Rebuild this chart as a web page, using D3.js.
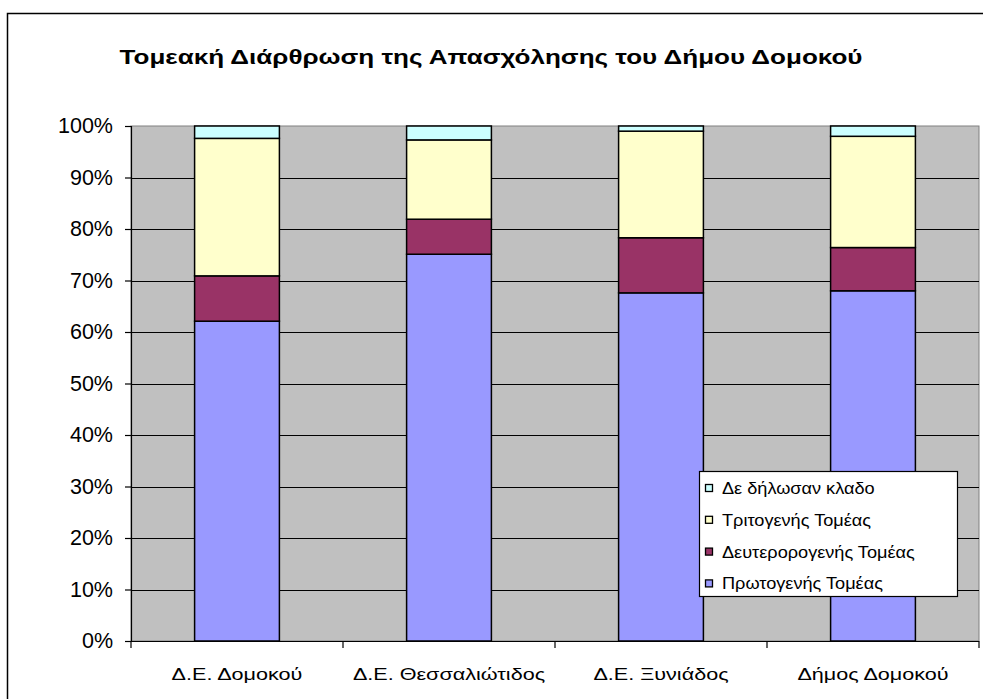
<!DOCTYPE html>
<html><head><meta charset="utf-8">
<script src="https://cdn.jsdelivr.net/npm/d3@7"></script>
<style>body{margin:0;background:#fff}svg{display:block}text{font-family:"Liberation Sans",Arial,sans-serif}</style>
</head><body>
<svg id="c" width="983" height="699"></svg>
<script>
const categories = ["Δ.Ε. Δομοκού","Δ.Ε. Θεσσαλιώτιδος","Δ.Ε. Ξυνιάδος","Δήμος Δομοκού"];
const seriesNames = ["Πρωτογενής Τομέας","Δευτερορογενής Τομέας","Τριτογενής Τομέας","Δε δήλωσαν κλαδο"];
const primary   = [62.1, 75.1, 67.6, 68.0];
const secondary = [8.8, 6.8, 10.7, 8.4];
const tertiary  = [26.7, 15.4, 20.7, 21.6];
const undeclared= [2.4, 2.7, 1.0, 2.0];
const yTicks = [0,10,20,30,40,50,60,70,80,90,100];
const colors = ["#9999FF","#993366","#FFFFCC","#CCFFFF"];
const title = "Τομεακή Διάρθρωση της Απασχόλησης του Δήμου Δομοκού";

const svg = d3.select("#c");
svg.append("rect").attr("x",7.5).attr("y",13.5).attr("width",1000).attr("height",720)
  .attr("fill","#fff").attr("stroke","#000").attr("stroke-width",1.5);

const L=131, R=979, T=126, B=641;
const x = d3.scaleBand().domain(categories).range([L,R]).paddingInner(0.6).paddingOuter(0.3);
const xb = d3.scaleBand().domain(categories).range([L,R]);
const y = d3.scaleLinear().domain([0,100]).range([B,T]);

svg.append("rect").attr("x",L).attr("y",T).attr("width",R-L).attr("height",B-T)
  .attr("fill","#C0C0C0").attr("stroke","#808080").attr("stroke-width",1);

svg.append("g").selectAll("line").data(yTicks.filter(d=>d>0&&d<100)).join("line")
  .attr("x1",L).attr("x2",R).attr("y1",d=>Math.round(y(d))+0.5).attr("y2",d=>Math.round(y(d))+0.5)
  .attr("stroke","#000").attr("stroke-width",1.2);

const data = categories.map((c,i)=>({cat:c, v:[primary[i],secondary[i],tertiary[i],undeclared[i]]}));
const stacked = d3.stack().keys([0,1,2,3]).value((d,k)=>d.v[k])(data);
svg.append("g").selectAll("g").data(stacked).join("g").attr("fill",(d,i)=>colors[i])
  .selectAll("rect").data(d=>d).join("rect")
  .attr("x",d=>x(d.data.cat)).attr("width",x.bandwidth())
  .attr("y",d=>y(Math.min(d[1],100))).attr("height",d=>y(d[0])-y(Math.min(d[1],100)))
  .attr("stroke","#000").attr("stroke-width",1.5);

const ya = svg.append("g").attr("transform",`translate(${L},0)`)
  .call(d3.axisLeft(y).tickValues(yTicks).tickFormat(d=>d+"%").tickSize(6).tickPadding(12));
ya.select(".domain").attr("stroke","#000").attr("stroke-width",1.2);
ya.selectAll(".tick line").attr("stroke","#000").attr("stroke-width",1.2);
ya.selectAll("text").attr("font-size",21.5).attr("fill","#000").attr("font-family","Liberation Sans, Arial, sans-serif");

const xa = svg.append("g").attr("transform",`translate(0,${B})`);
xa.append("line").attr("x1",L-6).attr("x2",R).attr("y1",0.5).attr("y2",0.5).attr("stroke","#000").attr("stroke-width",1.2);
xa.selectAll("line.t").data([L, ...categories.map(c=>xb(c)+xb.bandwidth())]).join("line").attr("class","t")
  .attr("x1",d=>d).attr("x2",d=>d).attr("y1",0).attr("y2",7).attr("stroke","#000").attr("stroke-width",1.2);
xa.selectAll("text").data(categories).join("text")
  .attr("transform",d=>`translate(${xb(d)+xb.bandwidth()/2},39) scale(1.27,1)`)
  .attr("text-anchor","middle")
  .attr("font-size",17).attr("fill","#000").text(d=>d);

svg.append("text").attr("transform","translate(491,64) scale(1.24,1)").attr("text-anchor","middle")
  .attr("font-size",21).attr("font-weight","bold").text(title);

const lg = svg.append("g");
lg.append("rect").attr("x",699.5).attr("y",471.5).attr("width",258).attr("height",125)
  .attr("fill","#fff").attr("stroke","#000").attr("stroke-width",1.2);
const order=[3,2,1,0];
order.forEach((s,j)=>{
  const cy = 488 + j*31.8;
  lg.append("rect").attr("x",705.5).attr("y",cy-3.5).attr("width",7).attr("height",7)
    .attr("fill",colors[s]).attr("stroke","#000").attr("stroke-width",1.3);
  lg.append("text").attr("transform",`translate(722,${cy+6}) scale(1.08,1)`).attr("font-size",16.8).attr("fill","#000").text(seriesNames[s]);
});
</script>
</body></html>
